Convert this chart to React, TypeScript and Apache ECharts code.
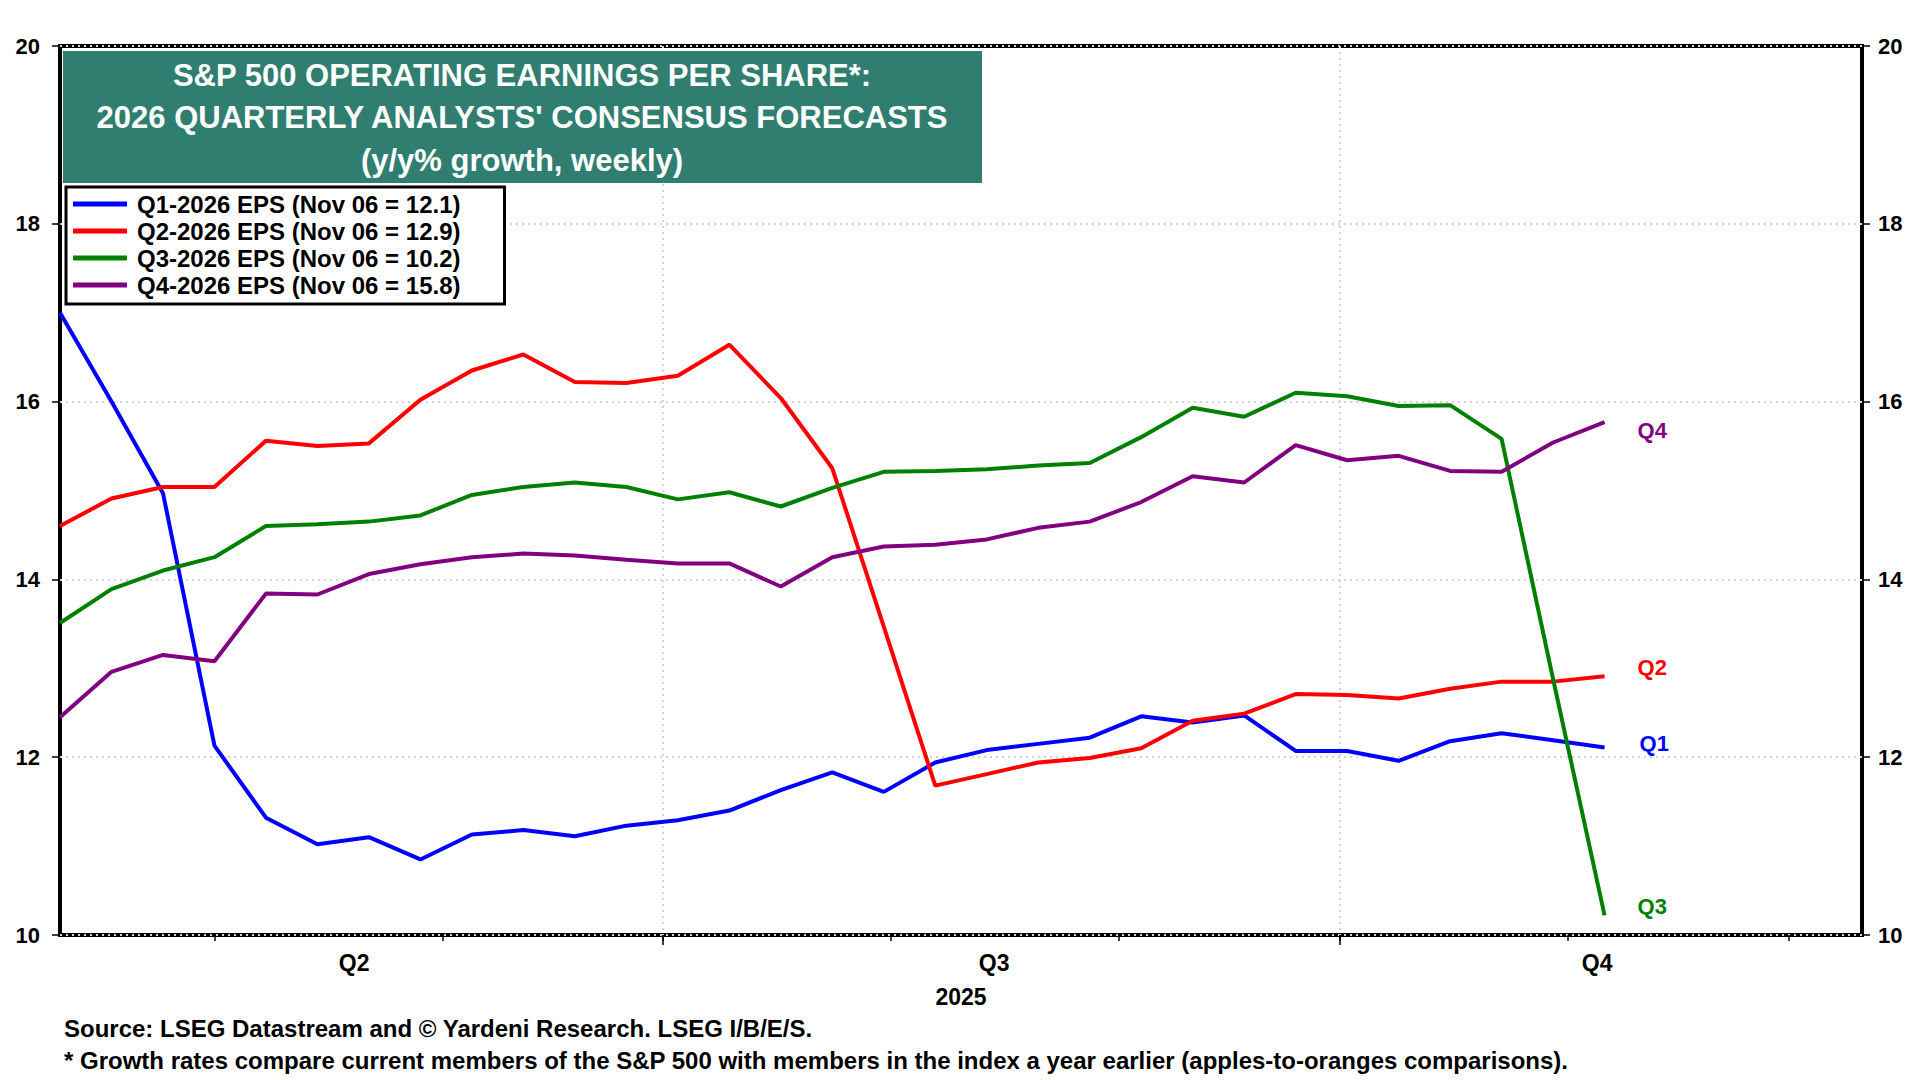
import React, { useEffect, useRef } from "react";
import * as echarts from "echarts";

// ---- data ----
const axisStartDate = "2025-04-10";
const axisEndDate = "2025-12-11";
const firstWeekDate = "2025-04-10";
const seriesNames = [
  "Q1-2026 EPS (Nov 06 = 12.1)",
  "Q2-2026 EPS (Nov 06 = 12.9)",
  "Q3-2026 EPS (Nov 06 = 10.2)",
  "Q4-2026 EPS (Nov 06 = 15.8)",
];
const endLabels = ["Q1", "Q2", "Q3", "Q4"];
const q1Eps = [17.0, 16.0, 14.97, 12.13, 11.32, 11.02, 11.1, 10.85, 11.13, 11.18, 11.11, 11.23, 11.29, 11.4, 11.63, 11.83, 11.61, 11.94, 12.08, 12.15, 12.22, 12.46, 12.39, 12.47, 12.07, 12.07, 11.96, 12.18, 12.27, 12.19, 12.11];
const q2Eps = [14.6, 14.91, 15.04, 15.04, 15.56, 15.5, 15.53, 16.02, 16.35, 16.53, 16.22, 16.21, 16.29, 16.64, 16.04, 15.25, 13.47, 11.68, 11.81, 11.94, 11.99, 12.1, 12.41, 12.49, 12.71, 12.7, 12.66, 12.77, 12.85, 12.85, 12.91];
const q3Eps = [13.51, 13.89, 14.1, 14.25, 14.6, 14.62, 14.65, 14.72, 14.95, 15.04, 15.09, 15.04, 14.9, 14.98, 14.82, 15.03, 15.21, 15.22, 15.24, 15.28, 15.31, 15.6, 15.93, 15.83, 16.1, 16.06, 15.95, 15.96, 15.58, 12.88, 10.22];
const q4Eps = [12.45, 12.96, 13.15, 13.08, 13.84, 13.83, 14.06, 14.17, 14.25, 14.29, 14.27, 14.22, 14.18, 14.18, 13.92, 14.25, 14.37, 14.39, 14.45, 14.58, 14.65, 14.87, 15.16, 15.09, 15.51, 15.34, 15.39, 15.22, 15.21, 15.54, 15.77];
const quarterLabels = ["Q2", "Q3", "Q4"];
const quarterLabelDates = ["2025-05-20", "2025-08-15", "2025-11-05"];
const quarterStartDates = ["2025-07-01", "2025-10-01"];
const yTicks = [10, 12, 14, 16, 18, 20];
const yearLabel = "2025";
const titleLines = [
  "S&P 500 OPERATING EARNINGS PER SHARE*:",
  "2026 QUARTERLY ANALYSTS' CONSENSUS FORECASTS",
  "(y/y% growth, weekly)",
];
const footerLines = [
  "Source: LSEG Datastream and © Yardeni Research. LSEG I/B/E/S.",
  "* Growth rates compare current members of the S&P 500 with members in the index a year earlier (apples-to-oranges comparisons).",
];
const colors = ["#0000FF", "#FF0000", "#008000", "#800080"];
const endLabelOffsets = [
  [27, -4],
  [25, -9],
  [25, -9],
  [25, 8],
];

const FONT = '"Liberation Sans", Arial, Helvetica, sans-serif';

function dayList(start: string, end: string): string[] {
  const out: string[] = [];
  const d = new Date(start + "T00:00:00Z");
  const e = new Date(end + "T00:00:00Z");
  while (d.getTime() <= e.getTime()) {
    out.push(d.toISOString().slice(0, 10));
    d.setUTCDate(d.getUTCDate() + 1);
  }
  return out;
}

function weekDates(start: string, n: number): string[] {
  const out: string[] = [];
  const d = new Date(start + "T00:00:00Z");
  for (let i = 0; i < n; i++) {
    out.push(d.toISOString().slice(0, 10));
    d.setUTCDate(d.getUTCDate() + 7);
  }
  return out;
}

export default function App() {
  const ref = useRef<HTMLDivElement>(null);
  useEffect(() => {
    document.body.style.margin = "0";
    if (!ref.current) return;
    const chart = echarts.init(ref.current, undefined, { renderer: "svg" });
    const days = dayList(axisStartDate, axisEndDate);
    const weeks = weekDates(firstWeekDate, q1Eps.length);
    const allSeries = [q1Eps, q2Eps, q3Eps, q4Eps];

    const option: any = {
      animation: false,
      backgroundColor: "#fff",
      textStyle: { fontFamily: FONT },
      grid: {
        left: 60,
        right: 58,
        top: 46,
        bottom: 145,
        show: true,
        borderColor: "#000",
        borderWidth: 4,
        backgroundColor: "transparent",
      },
      legend: {
        left: 66,
        top: 187,
        orient: "vertical",
        icon: "rect",
        itemWidth: 54,
        itemHeight: 5,
        itemGap: 3,
        padding: [5, 44, 7, 7],
        borderColor: "#000",
        borderWidth: 3,
        backgroundColor: "#fff",
        z: 10,
        textStyle: {
          fontSize: 24,
          fontWeight: "bold",
          color: "#000",
          fontFamily: FONT,
          padding: [0, 0, 0, 5],
        },
        data: seriesNames,
      },
      xAxis: [
        {
          type: "category",
          data: days,
          boundaryGap: false,
          axisLine: { show: false },
          axisTick: {
            show: true,
            length: 6,
            interval: (_i: number, v: string) => v.endsWith("-01"),
            lineStyle: { color: "#000", width: 1.5 },
          },
          axisLabel: {
            show: true,
            interval: (_i: number, v: string) => quarterLabelDates.includes(v),
            formatter: (v: string) => quarterLabels[quarterLabelDates.indexOf(v)] || "",
            margin: 16,
            fontSize: 23,
            fontWeight: "bold",
            color: "#000",
            fontFamily: FONT,
          },
          splitLine: { show: false },
          name: yearLabel,
          nameLocation: "middle",
          nameGap: 50,
          nameTextStyle: { fontSize: 23, fontWeight: "bold", color: "#000", fontFamily: FONT },
        },
        {
          type: "category",
          data: days,
          boundaryGap: false,
          position: "bottom",
          axisLine: { show: false },
          axisTick: {
            show: true,
            length: 10,
            interval: (_i: number, v: string) => quarterStartDates.includes(v),
            lineStyle: { color: "#000", width: 1.5 },
          },
          axisLabel: { show: false },
          splitLine: {
            show: true,
            interval: (_i: number, v: string) => quarterStartDates.includes(v),
            lineStyle: { color: "#d4d4d4", type: [2, 4], width: 2 },
          },
        },
      ],
      yAxis: [
        {
          type: "value",
          position: "left",
          min: yTicks[0],
          max: yTicks[yTicks.length - 1],
          interval: 2,
          axisLine: { show: false },
          axisTick: { show: true, length: 8, lineStyle: { color: "#000", width: 1.5 } },
          axisLabel: { margin: 20, fontSize: 22, fontWeight: "bold", color: "#000", fontFamily: FONT },
          splitLine: { show: true, lineStyle: { color: "#d4d4d4", type: [2, 4], width: 2 } },
        },
        {
          type: "value",
          position: "right",
          min: yTicks[0],
          max: yTicks[yTicks.length - 1],
          interval: 2,
          axisLine: { show: false },
          axisTick: { show: true, length: 8, lineStyle: { color: "#000", width: 1.5 } },
          axisLabel: { margin: 16, fontSize: 22, fontWeight: "bold", color: "#000", fontFamily: FONT },
          splitLine: { show: false },
        },
      ],
      series: allSeries.map((vals, k) => ({
        name: seriesNames[k],
        type: "line",
        xAxisIndex: 0,
        yAxisIndex: 0,
        data: vals.map((v, i) => [weeks[i], v]),
        symbol: "none",
        color: colors[k],
        lineStyle: { color: colors[k], width: 4 },
        z: 3,
        endLabel: {
          show: true,
          formatter: endLabels[k],
          color: colors[k],
          fontSize: 22,
          fontWeight: "bold",
          fontFamily: FONT,
          offset: endLabelOffsets[k],
        },
      })),
      graphic: [
        {
          type: "rect",
          z: 100,
          shape: { x: 63, y: 51, width: 919, height: 132 },
          style: { fill: "#2F7E70" },
        },
        ...titleLines.map((t, i) => ({
          type: "text",
          z: 101,
          x: 522,
          y: 75 + i * 42.5,
          style: {
            text: t,
            fill: "#fff",
            fontSize: 31,
            fontWeight: "bold",
            fontFamily: FONT,
            align: "center",
            verticalAlign: "middle",
          },
        })),
        ...footerLines.map((t, i) => ({
          type: "text",
          z: 101,
          x: 64,
          y: 1028 + i * 32,
          style: {
            text: t,
            fill: "#000",
            fontSize: 24,
            fontWeight: "bold",
            fontFamily: FONT,
            align: "left",
            verticalAlign: "middle",
          },
        })),
      ],
    };
    chart.setOption(option);
    return () => chart.dispose();
  }, []);
  return <div ref={ref} style={{ width: 1920, height: 1080 }} />;
}
